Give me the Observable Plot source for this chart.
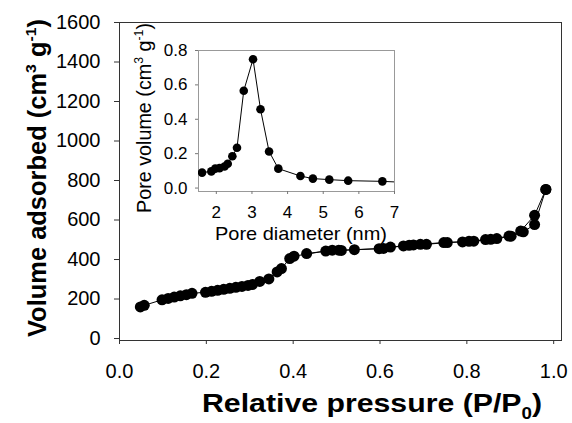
<!DOCTYPE html>
<html><head><meta charset="utf-8">
<script src="https://cdn.jsdelivr.net/npm/d3@7"></script>
<script src="https://cdn.jsdelivr.net/npm/@observablehq/plot@0.6"></script>
<style>
body{margin:0;background:#fff;}
#wrap{position:relative;width:572px;height:423px;font-family:"Liberation Sans",Arial,sans-serif;}
#wrap svg{position:absolute;left:0;top:0;overflow:visible;}
</style></head><body><div id="wrap"></div>
<script>
// Adsorption branch
const adsP = [0.048,0.057,0.098,0.112,0.126,0.140,0.154,0.167,0.198,0.212,0.226,0.240,0.254,0.268,0.282,0.296,0.306,0.323,0.344,0.363,0.373,0.392,0.402,0.475,0.505,0.541,0.608,0.654,0.677,0.707,0.755,0.805,0.843,0.869,0.902,0.930,0.956,0.982];
const adsV = [160,168,196,203,210,216,222,229,234,239,244,249,254,259,264,269,273,289,302,337,354,405,417,443,447,450,456,469,474,477,486,492,501,506,518,540,577,755];
// Desorption branch
const desP = [0.982,0.956,0.924,0.897,0.855,0.816,0.790,0.747,0.693,0.667,0.624,0.598,0.511,0.490,0.431];
const desV = [755,624,544,519,502,493,489,486,477,472,463,455,446,447,430];
// Inset: pore size distribution
const poreD = [1.60,1.86,1.97,2.09,2.23,2.32,2.45,2.58,2.77,3.03,3.24,3.48,3.74,4.36,4.71,5.17,5.70,6.66,7.60];
const poreVol = [0.090,0.097,0.113,0.116,0.125,0.141,0.185,0.234,0.566,0.749,0.458,0.213,0.113,0.070,0.055,0.049,0.043,0.039,0.030];

const mainXTicks = [0,0.2,0.4,0.6,0.8,1.0];
const mainYTicks = [0,200,400,600,800,1000,1200,1400,1600];
const insetXTicks = [2,3,4,5,6,7];
const insetYTicks = [0,0.2,0.4,0.6,0.8];

const ads = adsP.map((p,i)=>({p, v:adsV[i]}));
const des = desP.map((p,i)=>({p, v:desV[i]}));
const pore = poreD.map((d,i)=>({d, v:poreVol[i]}));

const FONT = '"Liberation Sans", Arial, sans-serif';
const wrap = document.getElementById("wrap");

const main = Plot.plot({
  width: 572, height: 423,
  marginLeft: 119, marginRight: 11, marginTop: 22, marginBottom: 83,
  x: {domain: [0, 1.018]},
  y: {domain: [-10, 1600]},
  style: {fontFamily: FONT, fontSize: "20px", background: "transparent", color: "#000"},
  marks: [
    Plot.frame({stroke: "#333", strokeWidth: 1}),
    Plot.axisX({ticks: mainXTicks, tickFormat: d3.format(".1f"), tickSize: 4, tickPadding: 19, label: null, stroke: "#333"}),
    Plot.axisY({ticks: mainYTicks, tickFormat: d => String(d), tickSize: 5, tickPadding: 14, label: null, stroke: "#333"}),
    Plot.line(ads, {x: "p", y: "v", stroke: "#000", strokeWidth: 1}),
    Plot.line(des, {x: "p", y: "v", stroke: "#000", strokeWidth: 1}),
    Plot.dot(ads, {x: "p", y: "v", r: 5.5, fill: "#000", stroke: "none"}),
    Plot.dot(des, {x: "p", y: "v", r: 5.5, fill: "#000", stroke: "none"})
  ]
});
wrap.appendChild(main);

const inset = Plot.plot({
  width: 280, height: 230,
  marginLeft: 78, marginRight: 6, marginTop: 30, marginBottom: 59,
  x: {domain: [1.5, 7]},
  y: {domain: [-0.02, 0.8]},
  style: {fontFamily: FONT, fontSize: "17px", background: "transparent", color: "#000"},
  marks: [
    Plot.frame({stroke: "#999", strokeWidth: 1}),
    Plot.axisX({ticks: insetXTicks, tickFormat: d => String(d), tickSize: 3, tickPadding: 11, label: null, stroke: "#777"}),
    Plot.axisY({ticks: insetYTicks, tickFormat: d3.format(".1f"), tickSize: 3, tickPadding: 8, label: null, stroke: "#777"}),
    Plot.line(pore, {x: "d", y: "v", stroke: "#000", strokeWidth: 1, clip: true}),
    Plot.dot(pore, {x: "d", y: "v", r: 4.3, fill: "#000", stroke: "none", clip: true})
  ]
});
inset.style.left = "120px";
inset.style.top = "20px";
wrap.appendChild(inset);

// Rich-text axis titles (superscripts / subscripts) drawn over the main SVG
function richText(svg, x, y, rotate, size, weight, len, parts) {
  const t = d3.select(svg).append("text")
    .attr("transform", `translate(${x},${y}) rotate(${rotate})`)
    .attr("text-anchor", "middle")
    .attr("font-family", FONT)
    .attr("font-size", size)
    .attr("font-weight", weight)
    .attr("fill", "#000");
  if (len) t.attr("textLength", len).attr("lengthAdjust", "spacingAndGlyphs");
  let shift = 0;
  for (const part of parts) {
    const target = part.sup ? -0.42 * size : part.sub ? 0.28 * size : 0;
    const s = t.append("tspan").text(part.t).attr("dy", target - shift);
    if (part.sup || part.sub) s.attr("font-size", size * 0.62);
    shift = target;
  }
}
richText(main, 46, 178, -90, 25, "bold", 318, [
  {t: "Volume adsorbed (cm"}, {t: "3", sup: true}, {t: " g"}, {t: "-1", sup: true}, {t: ")"}
]);
richText(main, 372, 412, 0, 26, "bold", 340, [
  {t: "Relative pressure (P/P"}, {t: "0", sub: true}, {t: ")"}
]);
richText(main, 151, 118, -90, 20, "normal", 190, [
  {t: "Pore volume (cm"}, {t: "3", sup: true}, {t: " g"}, {t: "-1", sup: true}, {t: ")"}
]);
richText(main, 301, 240, 0, 19, "normal", 172, [
  {t: "Pore diameter (nm)"}
]);
</script></body></html>
